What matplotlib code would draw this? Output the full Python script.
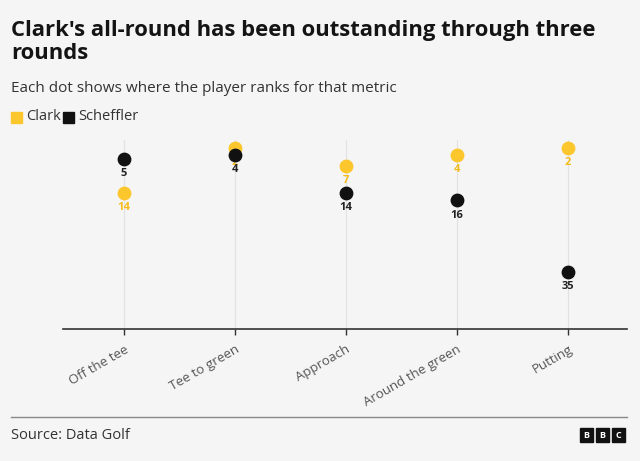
import matplotlib.pyplot as plt
from matplotlib.patches import Rectangle

# data
metrics = ['Off the tee', 'Tee to green', 'Approach', 'Around the green', 'Putting']
clark = [14, 2, 7, 4, 2]
scheffler = [5, 4, 14, 16, 35]

bg = '#f5f5f5'
yellow = '#fcc62d'
black = '#111111'

plt.rcParams['font.family'] = ['Open Sans', 'DejaVu Sans']

fig = plt.figure(figsize=(6.4, 4.61), dpi=100, facecolor=bg)
ax = fig.add_axes([63/640, 1-329/461, (627-63)/640, (329-140)/461])
ax.set_facecolor(bg)

x = list(range(len(metrics)))
for xi in x:
    ax.axvline(xi, color='#e2e2e2', lw=0.8, zorder=0)

# clark dots and labels first, scheffler on top
ax.scatter(x, clark, s=80, color=yellow, zorder=3)
for xi, v in zip(x, clark):
    ax.annotate(str(v), (xi, v), xytext=(0, -6.5), textcoords='offset points',
                ha='center', va='top', fontsize=8, fontweight='bold', color='#f4bd1c', zorder=3)
ax.scatter(x, scheffler, s=80, color=black, zorder=4)
for xi, v in zip(x, scheffler):
    ax.annotate(str(v), (xi, v), xytext=(0, -6.5), textcoords='offset points',
                ha='center', va='top', fontsize=8, fontweight='bold', color='#222222', zorder=4)

ax.set_ylim(50, 0)
ax.set_xlim(-0.55, 4.53)
ax.set_yticks([])
ax.set_xticks(x)
ax.set_xticklabels(metrics, rotation=30, ha='right', rotation_mode='anchor',
                   fontsize=9.5, color='#555555')
ax.tick_params(axis='x', length=4, width=1, color='#333333', pad=6)
for s in ['top', 'left', 'right']:
    ax.spines[s].set_visible(False)
ax.spines['bottom'].set_color('#333333')
ax.spines['bottom'].set_linewidth(1.2)

# titles
fig.text(11/640, 1-20/461, "Clark's all-round has been outstanding through three\nrounds",
         fontsize=15.8, fontweight='bold', color='#141414', va='top', linespacing=1.1)
fig.text(11/640, 1-88/461, 'Each dot shows where the player ranks for that metric',
         fontsize=11, color='#333333', va='center')

# legend
fig.patches.append(Rectangle((11/640, 1-123/461), 11/640, 11/461, transform=fig.transFigure,
                             color=yellow))
fig.text(26/640, 1-117/461, 'Clark', fontsize=10.5, color='#333333', va='center')
fig.patches.append(Rectangle((63/640, 1-123/461), 11/640, 11/461, transform=fig.transFigure,
                             color=black))
fig.text(78/640, 1-117/461, 'Scheffler', fontsize=10.5, color='#333333', va='center')

# footer
fig.add_artist(plt.Line2D([11/640, 627/640], [1-417/461, 1-417/461], color='#888888', lw=1))
fig.text(11/640, 1-435/461, 'Source: Data Golf', fontsize=10.5, color='#333333', va='center')
for i, ch in enumerate('BBC'):
    x0 = (580 + i*16)/640
    fig.patches.append(Rectangle((x0, 1-442/461), 13/640, 14/461, transform=fig.transFigure,
                                 color='#111111'))
    fig.text(x0 + 6.5/640, 1-435/461, ch, fontsize=6.5, fontweight='bold', color='white',
             ha='center', va='center')

fig.savefig('out.png', dpi=100, facecolor=bg)
